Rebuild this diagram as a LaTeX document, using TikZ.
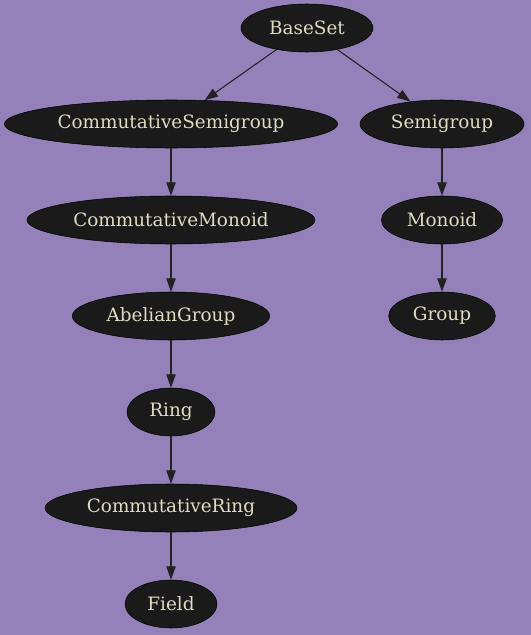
\documentclass[tikz,border=0pt]{standalone}
\usepackage{fontspec}
\setmainfont{DejaVu Serif}
\usetikzlibrary{shapes.geometric,arrows.meta}
\definecolor{bgpurple}{HTML}{9581BA}
\definecolor{nodefill}{HTML}{1A1A1A}
\definecolor{nodetext}{HTML}{E0DCC0}
\definecolor{edgecol}{HTML}{222222}
\begin{document}
\begin{tikzpicture}[x=0.75pt,y=-0.75pt,
  gnode/.style={ellipse,draw=black,fill=nodefill,text=nodetext,inner sep=0pt,
    minimum height=36pt,font=\fontsize{13.8}{15}\selectfont},
  gedge/.style={draw=edgecol,line width=0.8pt,-{Triangle[length=10pt,width=7pt]}}]
\fill[bgpurple] (0,0) rectangle (531,635);
\useasboundingbox (0,0) rectangle (531,635);
\node[gnode,minimum width=99pt] (bs) at (307,28) {BaseSet};
\node[gnode,minimum width=250pt] (csg) at (171,124) {CommutativeSemigroup};
\node[gnode,minimum width=123pt] (sg) at (442,124) {Semigroup};
\node[gnode,minimum width=216pt] (cm) at (171,220) {CommutativeMonoid};
\node[gnode,minimum width=91pt] (mo) at (442,220) {Monoid};
\node[gnode,minimum width=148pt] (ag) at (171,316) {AbelianGroup};
\node[gnode,minimum width=80pt] (gr) at (442,316) {Group};
\node[gnode,minimum width=66pt] (ri) at (171,412) {Ring};
\node[gnode,minimum width=189pt] (cr) at (171,508) {CommutativeRing};
\node[gnode,minimum width=69pt] (fi) at (171,604) {Field};
\draw[gedge] (bs) -- (csg);
\draw[gedge] (bs) -- (sg);
\draw[gedge] (csg) -- (cm);
\draw[gedge] (cm) -- (ag);
\draw[gedge] (ag) -- (ri);
\draw[gedge] (ri) -- (cr);
\draw[gedge] (cr) -- (fi);
\draw[gedge] (sg) -- (mo);
\draw[gedge] (mo) -- (gr);
\end{tikzpicture}
\end{document}
